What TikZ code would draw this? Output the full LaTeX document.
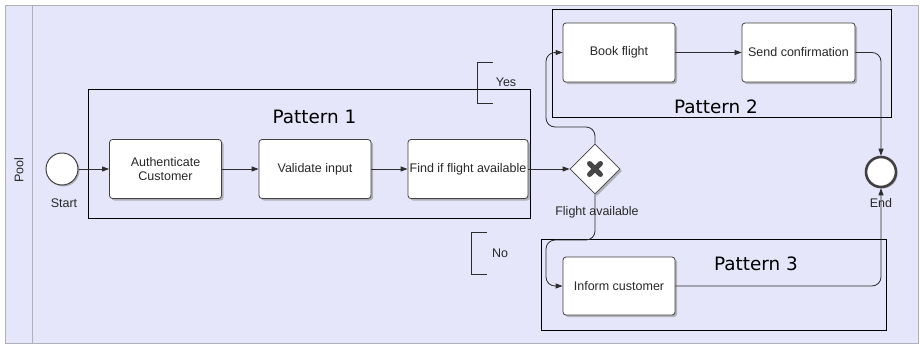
\documentclass[tikz,border=0pt]{standalone}
\usepackage{fontspec}
\setmainfont{Liberation Sans}
\newfontfamily\patternfont{DejaVu Sans}
\usetikzlibrary{arrows.meta,shapes.geometric,shadows,calc}

\definecolor{poolfill}{RGB}{230,230,250}
\definecolor{poolline}{RGB}{176,176,184}
\definecolor{flowline}{RGB}{45,45,45}
\definecolor{markgray}{RGB}{70,70,70}
\definecolor{labeltext}{RGB}{40,40,40}

\tikzset{
  base/.style={font=\fontsize{12.5}{14.5}\selectfont, text=labeltext},
  task/.style={base, rectangle, rounded corners=3pt, draw=black!75, line width=0.8pt,
    fill=white, align=center, minimum width=112pt, minimum height=59pt, inner sep=1pt,
    drop shadow={shadow xshift=2pt, shadow yshift=-2pt, fill=black!45, opacity=0.6}},
  event/.style={circle, draw=black!75, fill=white, inner sep=0pt,
    drop shadow={shadow xshift=1.5pt, shadow yshift=-1.5pt, fill=black!45, opacity=0.6}},
  gateway/.style={diamond, draw=black!75, line width=0.8pt, fill=white, minimum size=50pt,
    inner sep=0pt, drop shadow={shadow xshift=2pt, shadow yshift=-2pt, fill=black!45, opacity=0.6}},
  flow/.style={draw=flowline, line width=0.8pt, -{Triangle[length=7pt,width=5pt]}},
  pattern/.style={draw=black, line width=0.8pt},
  patterntitle/.style={font=\patternfont\fontsize{18.4}{21}\selectfont},
  note/.style={draw=flowline, line width=0.8pt},
  caption/.style={base}
}

\begin{document}
\begin{tikzpicture}[x=1pt,y=-1pt]
  \path[use as bounding box] (0,0) rectangle (924,346);

  % pool and its lane header
  \draw[poolline, fill=poolfill, line width=1pt] (5,5) rectangle (918,343);
  \draw[poolline, line width=1pt] (32,5) -- (32,343);
  \node[base, rotate=90] (poolname) at (19,170) {Pool};

  % pattern groupings
  \draw[pattern] (88,89) rectangle (530,218);
  \draw[pattern] (552,9) rectangle (891,117);
  \draw[pattern] (541,239) rectangle (886,330);
  \node[patterntitle] (p1) at (314.5,117) {Pattern 1};
  \node[patterntitle] (p2) at (716,107) {Pattern 2};
  \node[patterntitle] (p3) at (756,264) {Pattern 3};

  % events, tasks and gateway
  \node[event, line width=1pt, minimum size=32pt] (start) at (62,169) {};
  \node[caption] (startlbl) at (64,203) {Start};

  \node[task] (auth) at (165.5,169) {Authenticate\\Customer};
  \node[task] (valid) at (315,169) {Validate input};
  \node[task, minimum width=120pt] (find) at (468,169) {Find if flight available};

  \node[gateway] (gw) at (595,169) {};
  \draw[markgray, line width=5pt, line cap=round] ($(gw)+(-5.5,-5.5)$) -- ($(gw)+(5.5,5.5)$);
  \draw[markgray, line width=5pt, line cap=round] ($(gw)+(-5.5,5.5)$) -- ($(gw)+(5.5,-5.5)$);
  \node[caption] (gwlbl) at (597,212) {Flight available};

  \node[task] (book) at (619,52.5) {Book flight};
  \node[task, minimum width=113pt] (send) at (798.5,52.5) {Send confirmation};
  \node[task, minimum height=58pt] (inform) at (619,286) {Inform customer};

  \node[event, line width=2.6pt, minimum size=30pt] (end) at (881,172) {};
  \node[caption] (endlbl) at (881,203) {End};

  % annotations for the gateway branches
  \draw[note] (493,62) -- (477,62) -- (477,103) -- (493,103);
  \node[caption] (yes) at (506,82) {Yes};
  \draw[note] (487,232) -- (471,232) -- (471,274) -- (487,274);
  \node[caption] (no) at (500,253) {No};

  % sequence flows
  \coordinate (yesbend) at (546,127);
  \coordinate (nobend) at (546,240);
  \draw[flow] (start) -- (auth);
  \draw[flow] (auth) -- (valid);
  \draw[flow] (valid) -- (find);
  \draw[flow] (find) -- (gw);
  \draw[flow, rounded corners=9pt] (gw.north) |- (yesbend) |- (book.west);
  \draw[flow, rounded corners=9pt] (gw.south) |- (nobend) |- (inform.west);
  \draw[flow] (book) -- (send);
  \draw[flow, rounded corners=9pt] (send.east) -| (end.north);
  \draw[flow, rounded corners=9pt] (inform.east) -| (end.south);
\end{tikzpicture}
\end{document}
